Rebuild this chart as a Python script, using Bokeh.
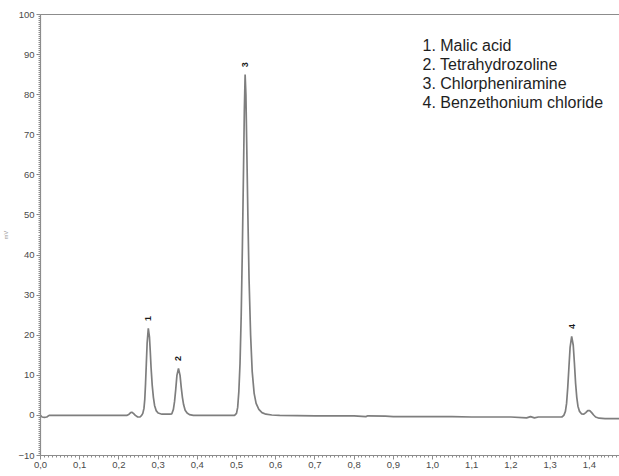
import math
from bokeh.plotting import figure
from bokeh.models import (ColumnDataSource, FixedTicker, LinearAxis, Label)
from bokeh.core.properties import value
from bokeh.embed import file_html
from bokeh.resources import INLINE

# Retention time (min) and detector signal (mV)
time_min = [
    0.000, 0.004, 0.010, 0.016, 0.022, 0.060, 0.120, 0.180, 0.220,
    0.226, 0.230, 0.233, 0.237, 0.242, 0.248, 0.254, 0.258, 0.261,
    0.264, 0.266, 0.268, 0.270, 0.272, 0.275, 0.278, 0.280, 0.282,
    0.285, 0.288, 0.291, 0.295, 0.300, 0.310, 0.320, 0.330, 0.335,
    0.339, 0.342, 0.345, 0.348, 0.352, 0.356, 0.359, 0.362, 0.365,
    0.369, 0.374, 0.380, 0.390, 0.430, 0.470, 0.495,
    0.500, 0.503, 0.506, 0.509, 0.512, 0.515, 0.518, 0.520, 0.522,
    0.524, 0.526, 0.529, 0.532, 0.536, 0.540, 0.545, 0.550, 0.557,
    0.565, 0.575, 0.590, 0.610, 0.700, 0.800, 0.830, 0.835, 0.880,
    0.900, 0.950, 1.000, 1.050, 1.100, 1.200, 1.240, 1.250, 1.260,
    1.270, 1.300, 1.330, 1.335,
    1.339, 1.342, 1.345, 1.348, 1.351, 1.355, 1.359, 1.362, 1.365,
    1.368, 1.371, 1.375, 1.380, 1.386, 1.391, 1.396, 1.401, 1.406,
    1.411, 1.416, 1.425, 1.440, 1.480,
]
signal_mv = [
    0.0, -0.4, -0.5, -0.4, 0.0, 0.0, 0.0, 0.0, 0.0,
    0.3, 0.7, 0.8, 0.5, 0.0, -0.4, -0.4, 0.0, 0.5,
    1.8, 4.0, 8.0, 13.0, 18.0, 21.7, 19.5, 16.0, 12.0,
    7.5, 4.5, 2.5, 1.2, 0.6, 0.3, 0.3, 0.3, 0.4,
    1.5, 3.5, 6.5, 10.0, 11.7, 10.0, 7.0, 4.5, 2.7,
    1.3, 0.6, 0.2, 0.0, 0.0, 0.0, 0.0,
    0.5, 2.0, 6.0, 13.0, 25.0, 42.0, 62.0, 76.0, 85.0,
    80.0, 68.0, 50.0, 34.0, 20.0, 11.0, 5.5, 3.0, 1.5,
    0.7, 0.3, 0.1, 0.0, -0.1, -0.1, -0.3, -0.1, -0.2,
    -0.3, -0.3, -0.3, -0.3, -0.4, -0.4, -0.6, -0.3, -0.6,
    -0.4, -0.4, -0.4, 0.0,
    1.0, 3.0, 7.0, 12.0, 17.0, 19.7, 17.5, 13.0, 8.0,
    4.5, 2.3, 1.0, 0.4, 0.3, 0.7, 1.2, 1.2, 0.7,
    0.1, -0.4, -0.7, -0.8, -0.8,
]

# Numbered peaks: apex retention time and height
peak_numbers = ["1", "2", "3", "4"]
peak_time = [0.275, 0.352, 0.522, 1.355]
peak_height = [21.7, 11.7, 85.0, 19.7]

compound_names = ["Malic acid", "Tetrahydrozoline", "Chlorpheniramine",
                  "Benzethonium chloride"]

y_ticks = [-10, 0, 10, 20, 30, 40, 50, 60, 70, 80, 90, 100]
x_ticks = [0.0, 0.1, 0.2, 0.3, 0.4, 0.5, 0.6, 0.7, 0.8, 0.9, 1.0, 1.1, 1.2, 1.3, 1.4]
x_tick_labels = ["0,0", "0,1", "0,2", "0,3", "0,4", "0,5", "0,6", "0,7",
                 "0,8", "0,9", "1,0", "1,1", "1,2", "1,3", "1,4"]

AXIS_GREY = "#8c8c8c"
TEXT_GREY = "#4a4a4a"
FONT = "Liberation Sans"

p = figure(width=619, height=476, output_backend="svg", toolbar_location=None,
           x_range=(0, 1.477), y_range=(-10, 100),
           x_axis_location=None, y_axis_location=None,
           min_border_left=40, min_border_right=0,
           min_border_top=14, min_border_bottom=21)
p.grid.visible = False
p.outline_line_color = None
p.background_fill_color = "white"
p.border_fill_color = "white"


def style_axis(ax):
    ax.axis_line_color = AXIS_GREY
    ax.axis_line_width = 1.2
    ax.major_tick_line_color = AXIS_GREY
    ax.minor_tick_line_color = AXIS_GREY
    ax.major_tick_out = 4
    ax.major_tick_in = 0
    ax.minor_tick_out = 2
    ax.minor_tick_in = 0
    ax.major_label_text_font = FONT
    ax.major_label_text_font_size = "9.5px"
    ax.major_label_text_color = TEXT_GREY
    ax.major_label_standoff = 2


yax = LinearAxis(ticker=FixedTicker(ticks=y_ticks,
                                    minor_ticks=[v / 2 for v in range(-20, 201)]))
style_axis(yax)
yax.axis_label = "mV"
yax.axis_label_text_font = FONT
yax.axis_label_text_font_size = "5.5px"
yax.axis_label_text_font_style = "normal"
yax.axis_label_text_color = "#999999"
yax.axis_label_standoff = 6
p.add_layout(yax, "left")

xax = LinearAxis(ticker=FixedTicker(ticks=x_ticks,
                                    minor_ticks=[i / 100 for i in range(0, 148)]))
style_axis(xax)
xax.major_label_overrides = {t: s for t, s in zip(x_ticks, x_tick_labels)}
p.add_layout(xax, "below")

# plain frame line along the top
top = LinearAxis(ticker=FixedTicker(ticks=[]))
top.axis_line_color = AXIS_GREY
top.axis_line_width = 1.2
top.major_label_text_font_size = "0px"
p.add_layout(top, "above")

p.line(time_min, signal_mv, line_color="#7e7e7e", line_width=1.7)

labels = ColumnDataSource(dict(x=peak_time, y=peak_height, t=peak_numbers))
p.text(x="x", y="y", text="t", source=labels, angle=math.pi / 2,
       x_offset=0, y_offset=-10, text_align="center", text_baseline="middle",
       text_font=value(FONT), text_font_size="9px", text_font_style="bold",
       text_color="#1a1a1a")

# compound key, placed in frame pixels from the lower-left corner
for i, name in enumerate(compound_names):
    p.add_layout(Label(x=382, y=410 - i * 18.9,
                       x_units="screen", y_units="screen",
                       text=f"{i + 1}. {name}", text_font=FONT,
                       text_font_size="16px", text_color="#1e1e1e",
                       text_baseline="middle"))

open("out.html", "w").write(file_html(p, INLINE))
